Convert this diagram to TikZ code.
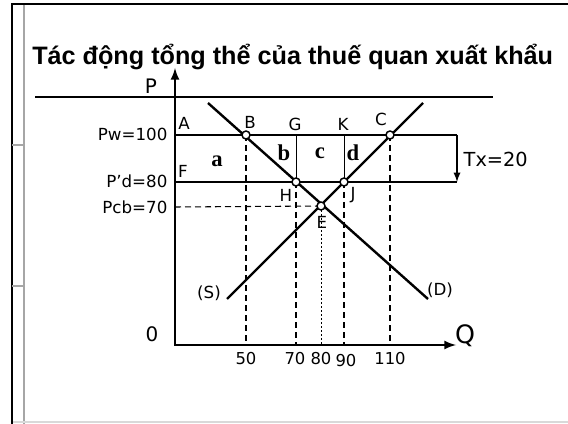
\documentclass[tikz,border=0pt]{standalone}
\usepackage{fontspec}
\setmainfont{DejaVu Sans}
\newfontfamily\titlefont{Liberation Sans}
\newfontfamily\areafont{Liberation Serif}
\begin{document}
\begin{tikzpicture}[x=0.75pt,y=-0.75pt,>=latex]
\tikzset{
  curve/.style={line width=1.8pt},
  price/.style={line width=2.2pt},
  guide/.style={dashed,line width=0.8pt,dash pattern=on 4.5pt off 3pt},
  pt/.style={circle,draw,fill=white,line width=1.1pt,inner sep=0pt,minimum size=6pt},
  lbl/.style={font=\fontsize{12.5}{14}\selectfont,inner sep=1pt},
  tick/.style={font=\fontsize{12.3}{14}\selectfont,inner sep=1pt},
  area/.style={font=\areafont\bfseries\fontsize{17}{19}\selectfont,inner sep=1pt}
}
\useasboundingbox (0,0) rectangle (568,424);
% slide frame
\draw[line width=2.2pt] (12,424) -- (12,4) -- (568,4);
\draw[gray!70,line width=0.8pt] (24,5) -- (24,424);
\draw[gray!70,line width=0.8pt] (12,145) -- (24,145);
\draw[gray!70,line width=0.8pt] (12,286) -- (24,286);
\draw[gray!30,line width=0.8pt] (13,422) -- (568,422);
\node[anchor=base west,inner sep=0pt] (title) at (32,65)
  {\titlefont\bfseries\fontsize{18.9}{21}\selectfont Tác động tổng thể của thuế quan xuất khẩu};
\draw[line width=1.4pt] (35,97) -- (493,97);
% axes
\coordinate (O) at (175,345);
\coordinate (Ptop) at (175,68);
\coordinate (Qend) at (456,345);
\draw[line width=2pt,<->] (Ptop) -- (O) -- (Qend);
\node[font=\fontsize{15}{17}\selectfont] (P) at (151,86) {P};
\node[font=\fontsize{19}{21}\selectfont] (Q) at (465,336) {Q};
\node[font=\fontsize{15}{18}\selectfont] (zero) at (152,334) {0};
% points
\coordinate (A) at (175,135);
\coordinate (F) at (175,182);
\coordinate (Pcb) at (175,207);
\coordinate (B) at (246,135);
\coordinate (G) at (296,135);
\coordinate (K) at (344,135);
\coordinate (C) at (390,135);
\coordinate (H) at (296,182);
\coordinate (J) at (344,182);
\coordinate (E) at (321,206);
\coordinate (Aend) at (457,135);
\coordinate (Fend) at (457,182);
% supply and demand
\coordinate (S0) at (227,299);
\coordinate (S1) at (423,103);
\coordinate (D0) at (208,103);
\coordinate (D1) at (428,299);
\draw[curve] (S0) -- (S1);
\draw[curve] (D0) -- (D1);
\node[lbl] (Slbl) at (209,293) {(S)};
\node[lbl] (Dlbl) at (440,290) {(D)};
% price lines
\draw[price] (A) -- (Aend);
\draw[price] (F) -- (Fend);
\draw[line width=1.4pt,->] (Aend) -- (Fend);
\node[font=\fontsize{14.5}{16}\selectfont,anchor=west] (Tx) at (459,159) {Tx=20};
% guide lines
\draw[line width=0.6pt] (G) -- (H);
\draw[line width=0.6pt] (K) -- (J);
\draw[guide] (Pcb) -- (E);
\draw[guide] (B) -- (246,345);
\draw[guide] (H) -- (296,345);
\draw[dashed,line width=0.5pt,dash pattern=on 1.5pt off 1.5pt] (E) -- (321,345);
\draw[guide] (J) -- (344,345);
\draw[guide] (C) -- (390,345);
\foreach \p in {B,C,H,J,E} \node[pt] at (\p) {};
% point labels
\node[lbl] (Albl) at (184,123) {A};
\node[lbl] (Blbl) at (250,122) {B};
\node[lbl] (Glbl) at (295,124) {G};
\node[lbl] (Klbl) at (343,124) {K};
\node[lbl] (Clbl) at (381,119) {C};
\node[lbl] (Flbl) at (183,171) {F};
\node[lbl] (Hlbl) at (286,195) {H};
\node[lbl] (Jlbl) at (353,195) {J};
\node[lbl] (Elbl) at (322,222) {E};
% price labels
\node[lbl,anchor=east] (Pw) at (169,134) {Pw=100};
\node[lbl,anchor=east] (Pd) at (169,181) {P’d=80};
\node[lbl,anchor=east] (Pc) at (169,207) {Pcb=70};
% quantity labels
\node[tick] (q50) at (246,359) {50};
\node[tick] (q70) at (295,359) {70};
\node[tick] (q80) at (321,359) {80};
\node[tick] (q90) at (346,361) {90};
\node[tick] (q110) at (390,359) {110};
% areas
\node[area] (a) at (217,161) {a};
\node[area] (b) at (284,153) {b};
\node[area] (c) at (320,153) {c};
\node[area] (d) at (353,153) {d};
\end{tikzpicture}
\end{document}
